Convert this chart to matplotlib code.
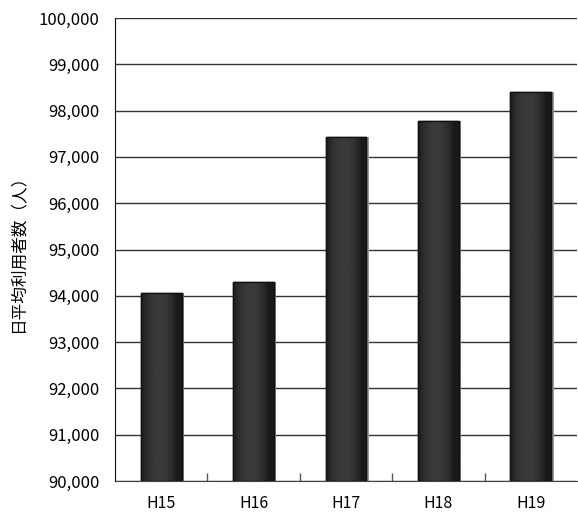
import numpy as np
import matplotlib
matplotlib.use("Agg")
import matplotlib.pyplot as plt
from matplotlib.ticker import FuncFormatter, MultipleLocator, FixedLocator
import matplotlib.transforms as mtransforms

plt.rcParams['font.family'] = ['Noto Sans CJK JP', 'DejaVu Sans']

years = ["H15", "H16", "H17", "H18", "H19"]
users = [94057, 94304, 97435, 97767, 98391]
y_label = "日平均利用者数（人）"
y_min, y_max, y_step = 90000, 100000, 1000

fig = plt.figure(figsize=(5.78, 5.15), dpi=100)
ax = fig.add_axes([115 / 578, 34 / 515, 462 / 578, 463 / 515])

x = np.arange(len(years))
width = 0.44

# soft drop shadow to the right of each bar
shadow_off = mtransforms.offset_copy(ax.transData, fig=fig, x=2.5, y=0, units='dots')
ax.bar(x, [u - y_min for u in users], width=width, bottom=y_min,
       color='#9a9a9a', edgecolor='none', transform=shadow_off, zorder=2)

bars = ax.bar(x, [u - y_min for u in users], width=width, bottom=y_min,
              color='#2c2c2c', edgecolor='#111111', linewidth=1.0, zorder=3)

# cylindrical shading inside each bar
t = np.linspace(0, 1, 64)
shade = 0.10 + 0.13 * np.sin(np.pi * np.clip(t * 1.15, 0, 1)) ** 0.7
grad = np.tile(shade, (2, 1))
for rect in bars:
    x0, w = rect.get_x(), rect.get_width()
    y0, h = rect.get_y(), rect.get_height()
    im = ax.imshow(grad, cmap='gray', vmin=0, vmax=1, aspect='auto',
                   extent=[x0, x0 + w, y0, y0 + h], zorder=3.5,
                   interpolation='bilinear')
    im.set_clip_path(rect)
    ax.add_patch(plt.Rectangle((x0, y0), w, h, fill=False,
                               edgecolor='#111111', linewidth=1.0, zorder=4))

ax.set_xlim(-0.5, len(years) - 0.5)
ax.set_ylim(y_min, y_max)
ax.yaxis.set_major_locator(MultipleLocator(y_step))
ax.yaxis.set_major_formatter(FuncFormatter(lambda v, p: f"{int(v):,}"))
ax.grid(axis='y', color='#333333', linewidth=1.0, zorder=1)

ax.set_xticks(x)
ax.set_xticklabels(years)
ax.xaxis.set_minor_locator(FixedLocator(np.arange(0.5, len(years) - 0.5, 1)))
ax.tick_params(axis='x', which='major', length=0, pad=10, labelsize=11.5)
ax.tick_params(axis='x', which='minor', direction='in', length=6,
               color='#555555', width=1)
ax.tick_params(axis='y', length=0, pad=11, labelsize=12)

for s in ('top', 'right'):
    ax.spines[s].set_visible(False)
ax.spines['left'].set_color('#111111')
ax.spines['bottom'].set_color('#444444')
ax.spines['left'].set_zorder(5)

fig.text(18 / 578, 1 - 250 / 515, y_label, rotation=90, ha='center',
         va='center', fontsize=12)

fig.savefig("out.png", dpi=100)
